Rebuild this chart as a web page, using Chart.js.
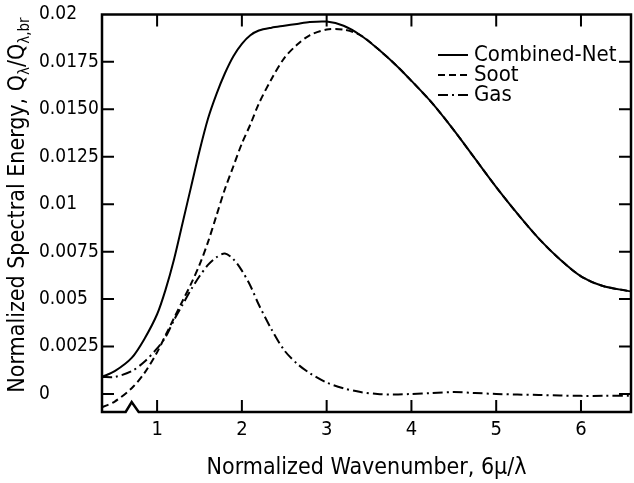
<!DOCTYPE html>
<html lang="en">
<head>
  <meta charset="UTF-8" />
  <title>Normalized Spectral Energy</title>
  <script src="https://cdn.jsdelivr.net/npm/chart.js"></script>
  <style>
    html, body { margin: 0; padding: 0; background: #fff; }
  </style>
</head>
<body>
  <canvas id="spectrum" width="634" height="483"></canvas>

  <script>
    // values
    const wavenumber = [0.35, 0.5, 0.7, 0.85, 1.0, 1.1, 1.2, 1.3, 1.4, 1.5, 1.6, 1.7, 1.8, 1.9, 2.0, 2.1, 2.2, 2.35, 2.5, 2.65, 2.8, 3.0, 3.2, 3.4, 3.6, 3.8, 4.0, 4.25, 4.5, 4.75, 5.0, 5.25, 5.5, 5.75, 6.0, 6.25, 6.59];
    const combinedNet = [0.0009, 0.0012, 0.0019, 0.0029, 0.0042, 0.0055, 0.0071, 0.0090, 0.0109, 0.0128, 0.0145, 0.0158, 0.0169, 0.0178, 0.01845, 0.0189, 0.01915, 0.0193, 0.0194, 0.0195, 0.0196, 0.01962, 0.0194, 0.0189, 0.0182, 0.0174, 0.0165, 0.0153, 0.0139, 0.0124, 0.0109, 0.0095, 0.0082, 0.0071, 0.0062, 0.0057, 0.0054];
    const soot = [-0.0007, -0.0004, 0.0003, 0.0011, 0.0022, 0.0031, 0.0040, 0.0049, 0.0058, 0.0068, 0.0080, 0.0094, 0.0108, 0.0120, 0.0132, 0.0142, 0.0153, 0.0166, 0.0177, 0.0184, 0.0189, 0.0192, 0.0192, 0.0189, 0.0182, 0.0174, 0.0165, 0.0153, 0.0139, 0.0124, 0.0109, 0.0095, 0.0082, 0.0071, 0.0062, 0.0057, 0.0054];
    const gas = [0.0009, 0.0009, 0.0012, 0.0017, 0.0024, 0.0030, 0.0039, 0.0047, 0.0055, 0.0062, 0.0068, 0.0072, 0.0074, 0.0071, 0.0065, 0.0057, 0.0047, 0.0034, 0.0023, 0.0016, 0.0011, 0.0006, 0.0003, 0.0001, 0.0, -0.00003, 0.0, 0.00005, 0.0001, 0.00005, 0.0, -0.00003, -0.00005, -0.00008, -0.0001, -0.0001, -0.0001];

    const xTicks = [1, 2, 3, 4, 5, 6];
    const yTicks = [0, 0.0025, 0.005, 0.0075, 0.01, 0.0125, 0.015, 0.0175, 0.02];
    const yTickLabels = ["0", "0.0025", "0.005", "0.0075", "0.01", "0.0125", "0.0150", "0.0175", "0.02"];

    const FONT = "'DejaVu Sans Condensed', 'DejaVu Sans', sans-serif";
    const toPoints = ys => wavenumber.map((x, i) => ({ x, y: ys[i] }));

    // box round the plot with ticks pointing inward, plus the little break mark
    const frame = {
      id: "frame",
      afterDraw(chart) {
        const { ctx, chartArea: a, scales: { x, y } } = chart;
        ctx.save();
        ctx.strokeStyle = "#000";
        ctx.setLineDash([]);
        ctx.lineWidth = 2.5;
        const bx = x.getPixelForValue(0.7);
        ctx.beginPath();
        ctx.moveTo(a.left, a.top);
        ctx.lineTo(a.right, a.top);
        ctx.lineTo(a.right, a.bottom);
        ctx.lineTo(bx + 7, a.bottom);
        ctx.lineTo(bx, a.bottom - 10);
        ctx.lineTo(bx - 6, a.bottom);
        ctx.lineTo(a.left, a.bottom);
        ctx.closePath();
        ctx.stroke();

        ctx.lineWidth = 2;
        const len = 12;
        ctx.beginPath();
        xTicks.forEach(v => {
          const px = x.getPixelForValue(v);
          ctx.moveTo(px, a.bottom); ctx.lineTo(px, a.bottom - len);
          ctx.moveTo(px, a.top); ctx.lineTo(px, a.top + len);
        });
        yTicks.slice(0, -1).forEach(v => {
          const py = y.getPixelForValue(v);
          ctx.moveTo(a.left, py); ctx.lineTo(a.left + len, py);
          ctx.moveTo(a.right, py); ctx.lineTo(a.right - len, py);
        });
        ctx.stroke();
        ctx.restore();
      }
    };

    // legend inside the plot, top right
    const insideLegend = {
      id: "insideLegend",
      afterDraw(chart) {
        const { ctx } = chart;
        ctx.save();
        ctx.font = "22px " + FONT;
        ctx.fillStyle = "#000";
        ctx.textBaseline = "middle";
        chart.data.datasets.forEach((ds, i) => {
          const yy = 55 + i * 20;
          ctx.strokeStyle = "#000";
          ctx.lineWidth = 2;
          ctx.setLineDash(ds.borderDash || []);
          ctx.beginPath();
          ctx.moveTo(438, yy);
          ctx.lineTo(468, yy);
          ctx.stroke();
          ctx.fillText(ds.label, 474, yy);
        });
        ctx.restore();
      }
    };

    // y axis title with subscripts
    const yTitle = {
      id: "yTitle",
      afterDraw(chart) {
        const { ctx } = chart;
        const parts = [["Normalized Spectral Energy, Q", false], ["λ", true], ["/Q", false], ["λ,br", true]];
        ctx.save();
        ctx.fillStyle = "#000";
        ctx.textBaseline = "alphabetic";
        let total = 0;
        parts.forEach(([t, sub]) => {
          ctx.font = (sub ? "15px " : "23px ") + FONT;
          total += ctx.measureText(t).width;
        });
        ctx.translate(24, 205 + total / 2);
        ctx.rotate(-Math.PI / 2);
        let pos = 0;
        parts.forEach(([t, sub]) => {
          ctx.font = (sub ? "15px " : "23px ") + FONT;
          ctx.fillText(t, pos, sub ? 5 : 0);
          pos += ctx.measureText(t).width;
        });
        ctx.restore();
      }
    };

    const lineStyle = { borderColor: "#000", borderWidth: 2, pointRadius: 0, tension: 0.3 };

    new Chart(document.getElementById("spectrum"), {
      type: "line",
      data: {
        datasets: [
          { ...lineStyle, label: "Combined-Net", data: toPoints(combinedNet), borderDash: [] },
          { ...lineStyle, label: "Soot", data: toPoints(soot), borderDash: [7, 4] },
          { ...lineStyle, label: "Gas", data: toPoints(gas), borderDash: [10, 4, 2, 4] }
        ]
      },
      options: {
        responsive: false,
        animation: false,
        layout: { padding: { left: 39, top: 13, right: 3, bottom: 0 } },
        plugins: { legend: { display: false }, tooltip: { enabled: false } },
        scales: {
          x: {
            type: "linear",
            min: 0.35,
            max: 6.59,
            afterBuildTicks: s => { s.ticks = xTicks.map(v => ({ value: v })); },
            afterFit: s => { s.height = 71; },
            grid: { display: false, drawTicks: false },
            border: { display: false },
            ticks: { color: "#000", padding: 6, font: { family: FONT, size: 20 } },
            title: {
              display: true,
              text: "Normalized Wavenumber, 6μ/λ",
              color: "#000",
              font: { family: FONT, size: 23 },
              padding: { top: 0, bottom: 1 }
            }
          },
          y: {
            min: -0.00095,
            max: 0.02,
            afterBuildTicks: s => { s.ticks = yTicks.map(v => ({ value: v })); },
            afterFit: s => { s.width = 63; },
            grid: { display: false, drawTicks: false },
            border: { display: false },
            ticks: {
              color: "#000",
              crossAlign: "far",
              font: { family: FONT, size: 19 },
              callback: v => yTickLabels[yTicks.indexOf(v)]
            }
          }
        }
      },
      plugins: [frame, insideLegend, yTitle]
    });
  </script>
</body>
</html>
